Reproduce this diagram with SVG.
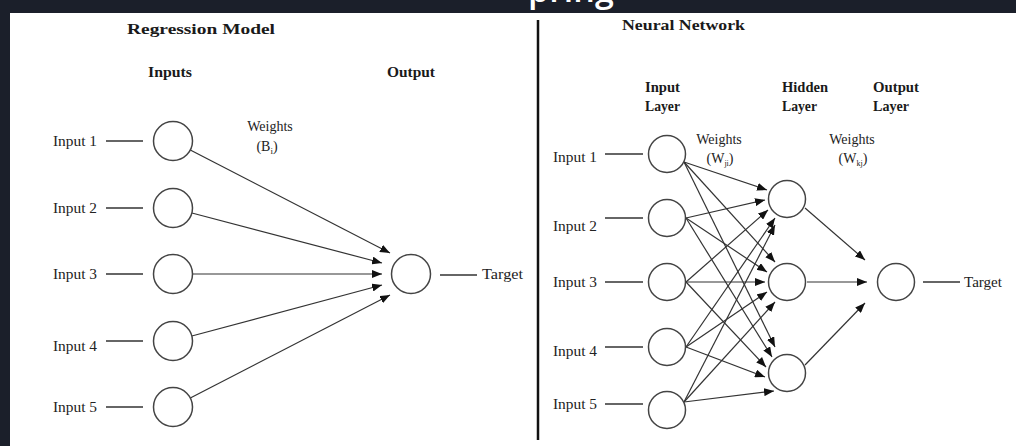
<svg xmlns="http://www.w3.org/2000/svg" width="1016" height="446" viewBox="0 0 1016 446">
<defs>
<style>
.t{font-family:"Liberation Serif","Times New Roman",serif;font-size:14px;fill:#222}
.b{font-family:"Liberation Serif","Times New Roman",serif;font-size:15px;font-weight:bold;fill:#1a1a1a}
.n{fill:#fff;stroke:#444;stroke-width:1.5}
.c{stroke:#333;stroke-width:1.3;fill:none}
.e{stroke:#333;stroke-width:1.2;fill:none;marker-end:url(#ah)}
</style>
<marker id="ah" viewBox="0 0 10 8" markerWidth="10" markerHeight="8" refX="10" refY="4" markerUnits="userSpaceOnUse" orient="auto">
<path d="M0,0 L10,4 L0,8 z" fill="#111"/>
</marker>
</defs>
<rect x="0" y="0" width="1016" height="446" fill="#ffffff"/>
<rect x="0" y="0" width="1016" height="13" fill="#1b1f2a"/>
<rect x="0" y="0" width="10" height="446" fill="#1b1f2a"/>
<text x="528" y="2" font-family="'Open Sans',sans-serif" font-weight="600" font-size="34" fill="#ffffff">pring</text>

<line x1="538" y1="20" x2="538" y2="440" stroke="#111" stroke-width="2.5"/>

<g id="titles">
<text class="b" x="127" y="34" font-size="17" textLength="148" lengthAdjust="spacingAndGlyphs">Regression Model</text>
<text class="b" x="622" y="30" font-size="17" textLength="123" lengthAdjust="spacingAndGlyphs">Neural Network</text>
<text class="b" x="148" y="77" textLength="44" lengthAdjust="spacingAndGlyphs">Inputs</text>
<text class="b" x="387" y="77" textLength="48" lengthAdjust="spacingAndGlyphs">Output</text>
<text class="b" x="645" y="92" textLength="35" lengthAdjust="spacingAndGlyphs">Input</text>
<text class="b" x="645" y="111" textLength="35" lengthAdjust="spacingAndGlyphs">Layer</text>
<text class="b" x="782" y="92" textLength="46" lengthAdjust="spacingAndGlyphs">Hidden</text>
<text class="b" x="782" y="111" textLength="35" lengthAdjust="spacingAndGlyphs">Layer</text>
<text class="b" x="873" y="92" textLength="46" lengthAdjust="spacingAndGlyphs">Output</text>
<text class="b" x="873" y="111" textLength="36" lengthAdjust="spacingAndGlyphs">Layer</text>
</g>

<g id="weight-labels">
<text class="t" x="270" y="131" text-anchor="middle">Weights</text>
<text class="t" x="267" y="151" text-anchor="middle">(B<tspan font-size="9" dy="3">i</tspan><tspan dy="-3">)</tspan></text>
<text class="t" x="719" y="144" text-anchor="middle" font-size="13">Weights</text>
<text class="t" x="720" y="163" text-anchor="middle" font-size="13">(W<tspan font-size="8" dy="3">ji</tspan><tspan dy="-3">)</tspan></text>
<text class="t" x="852" y="144" text-anchor="middle" font-size="13">Weights</text>
<text class="t" x="853" y="163" text-anchor="middle" font-size="13">(W<tspan font-size="8" dy="3">kj</tspan><tspan dy="-3">)</tspan></text>
</g>

<g id="connectors">
<line class="c" x1="106" y1="141" x2="143" y2="141"/>
<line class="c" x1="106" y1="208" x2="143" y2="208"/>
<line class="c" x1="106" y1="274" x2="143" y2="274"/>
<line class="c" x1="106" y1="341" x2="143" y2="341"/>
<line class="c" x1="106" y1="407" x2="143" y2="407"/>
<line class="e" x1="190.3" y1="150" x2="390" y2="253"/>
<line class="e" x1="191.9" y1="213" x2="382" y2="263"/>
<line class="e" x1="192.5" y1="274" x2="382" y2="274"/>
<line class="e" x1="191.8" y1="336" x2="382" y2="285"/>
<line class="e" x1="190.3" y1="398" x2="390" y2="295"/>
<line class="c" x1="440" y1="275" x2="477" y2="275"/>
<line class="c" x1="605" y1="154" x2="643" y2="154"/>
<line class="c" x1="605" y1="218" x2="643" y2="218"/>
<line class="c" x1="605" y1="282" x2="643" y2="282"/>
<line class="c" x1="605" y1="347" x2="643" y2="347"/>
<line class="c" x1="605" y1="404" x2="643" y2="404"/>
<line class="e" x1="684" y1="162" x2="767" y2="190"/>
<line class="e" x1="684" y1="162" x2="775" y2="262"/>
<line class="e" x1="684" y1="162" x2="775" y2="347"/>
<line class="e" x1="686" y1="218" x2="765" y2="200"/>
<line class="e" x1="686" y1="218" x2="767" y2="272"/>
<line class="e" x1="686" y1="218" x2="772" y2="357"/>
<line class="e" x1="686" y1="282" x2="768" y2="210"/>
<line class="e" x1="686" y1="282" x2="765" y2="282"/>
<line class="e" x1="686" y1="282" x2="766" y2="367"/>
<line class="e" x1="686" y1="347" x2="775" y2="218"/>
<line class="e" x1="686" y1="347" x2="767" y2="292"/>
<line class="e" x1="686" y1="347" x2="765" y2="377"/>
<line class="e" x1="684" y1="402" x2="775" y2="225"/>
<line class="e" x1="684" y1="402" x2="775" y2="302"/>
<line class="e" x1="684" y1="402" x2="774" y2="391"/>
<line class="e" x1="805" y1="208" x2="865" y2="260"/>
<line class="e" x1="807" y1="282" x2="867" y2="282"/>
<line class="e" x1="805" y1="365" x2="865" y2="303"/>
<line class="c" x1="923" y1="282" x2="960" y2="282"/>
</g>

<g id="reg-input-1"><circle class="n" cx="173" cy="141" r="19.5"/><text class="t" x="53" y="146" textLength="44" lengthAdjust="spacingAndGlyphs">Input 1</text></g>
<g id="reg-input-2"><circle class="n" cx="173" cy="208" r="19.5"/><text class="t" x="53" y="213" textLength="44" lengthAdjust="spacingAndGlyphs">Input 2</text></g>
<g id="reg-input-3"><circle class="n" cx="173" cy="274" r="19.5"/><text class="t" x="53" y="279" textLength="44" lengthAdjust="spacingAndGlyphs">Input 3</text></g>
<g id="reg-input-4"><circle class="n" cx="173" cy="341" r="19.5"/><text class="t" x="53" y="351" textLength="44" lengthAdjust="spacingAndGlyphs">Input 4</text></g>
<g id="reg-input-5"><circle class="n" cx="173" cy="407" r="19.5"/><text class="t" x="53" y="412" textLength="44" lengthAdjust="spacingAndGlyphs">Input 5</text></g>
<g id="reg-output"><circle class="n" cx="411" cy="274" r="19.5"/><text class="t" x="482" y="279" textLength="41" lengthAdjust="spacingAndGlyphs">Target</text></g>

<g id="nn-input-1"><circle class="n" cx="667" cy="154" r="18.5"/><text class="t" x="553" y="162" textLength="44" lengthAdjust="spacingAndGlyphs">Input 1</text></g>
<g id="nn-input-2"><circle class="n" cx="667" cy="218" r="18.5"/><text class="t" x="553" y="231" textLength="44" lengthAdjust="spacingAndGlyphs">Input 2</text></g>
<g id="nn-input-3"><circle class="n" cx="667" cy="282" r="18.5"/><text class="t" x="553" y="287" textLength="44" lengthAdjust="spacingAndGlyphs">Input 3</text></g>
<g id="nn-input-4"><circle class="n" cx="667" cy="347" r="18.5"/><text class="t" x="553" y="356" textLength="44" lengthAdjust="spacingAndGlyphs">Input 4</text></g>
<g id="nn-input-5"><circle class="n" cx="667" cy="410" r="18.5"/><text class="t" x="553" y="409" textLength="44" lengthAdjust="spacingAndGlyphs">Input 5</text></g>
<g id="nn-hidden-1"><circle class="n" cx="787" cy="199" r="18.5"/></g>
<g id="nn-hidden-2"><circle class="n" cx="787" cy="282" r="18.5"/></g>
<g id="nn-hidden-3"><circle class="n" cx="787" cy="373" r="18.5"/></g>
<g id="nn-output"><circle class="n" cx="896" cy="282" r="18.5"/><text class="t" x="964" y="287" textLength="38" lengthAdjust="spacingAndGlyphs">Target</text></g>
</svg>
